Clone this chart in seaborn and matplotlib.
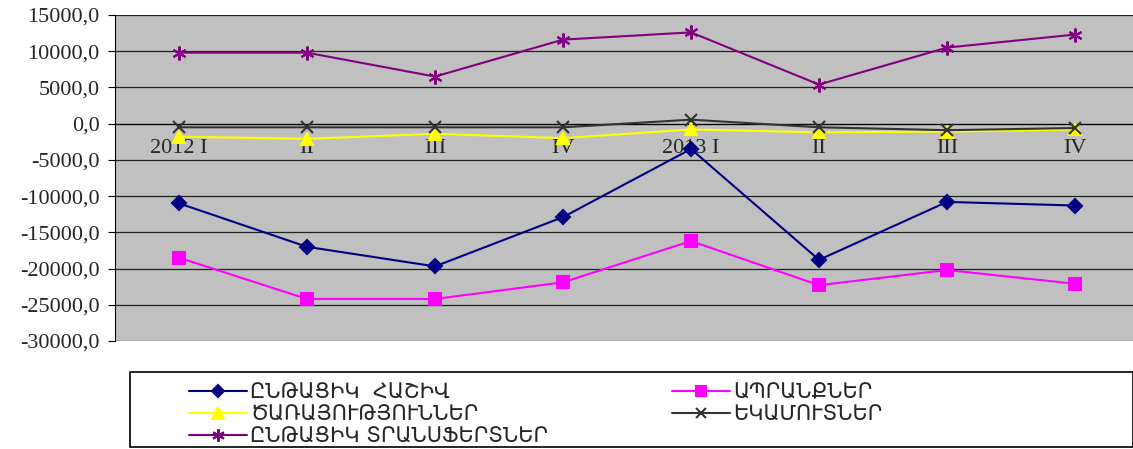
import numpy as np
import pandas as pd
import matplotlib
matplotlib.use("Agg")
import matplotlib.pyplot as plt
import matplotlib.ticker as mticker
from matplotlib.patches import Rectangle
import seaborn as sns

# Quarters on the x axis
quarters = ["2012 I", "II", "III", "IV", "2013 I", "II", "III", "IV"]

# Series values
current_account = [-11000, -17000, -19700, -12900, -3500, -18800, -10800, -11300]
goods = [-18500, -24200, -24200, -21900, -16200, -22300, -20200, -22100]
services = [-1800, -2100, -1400, -2000, -800, -1200, -1100, -800]
income = [-500, -500, -500, -500, 550, -500, -900, -600]
transfers = [9800, 9800, 6500, 11600, 12600, 5400, 10500, 12300]

labels = ["ԸՆԹԱՑԻԿ  ՀԱՇԻՎ", "ԱՊՐԱՆՔՆԵՐ", "ԾԱՌԱՅՈՒԹՅՈՒՆՆԵՐ",
          "ԵԿԱՄՈՒՏՆԵՐ", "ԸՆԹԱՑԻԿ ՏՐԱՆՍՖԵՐՏՆԵՐ"]

sns.set_style("white")
plt.rcParams['font.family'] = ['Liberation Serif', 'DejaVu Serif']

fig = plt.figure(figsize=(11.33, 4.49), dpi=100)
ax = fig.add_axes([115 / 1133, 1 - 341 / 449, 1024 / 1133, 326 / 449])
ax.set_facecolor("#c0c0c0")

pos = np.arange(len(quarters))
styles = [
    (current_account, "#000080", "D", 7, labels[0]),
    (goods, "#ff00ff", "s", 8.5, labels[1]),
    (services, "#ffff00", "^", 9, labels[2]),
    (income, "#333333", "x", 8, labels[3]),
    (transfers, "#800080", (6, 2, 0), 10, labels[4]),
]

handles = {}
for vals, col, mk, ms, lab in styles:
    sns.lineplot(x=pos, y=vals, ax=ax, color=col, marker=mk, markersize=ms,
                 markeredgecolor=col, markeredgewidth=1.5, linewidth=1.5,
                 label=lab, legend=False, zorder=3)
    handles[lab] = ax.lines[-1]

ax.set_xlim(-0.5, len(quarters) - 0.5)
ax.set_ylim(-30000, 15000)
ax.yaxis.set_major_locator(mticker.MultipleLocator(5000))
ax.yaxis.set_major_formatter(mticker.FuncFormatter(
    lambda v, p: f"{v:.1f}".replace(".", ",")))
ax.grid(axis="y", color="#202020", linewidth=0.9)
ax.set_axisbelow(True)

for s in ["top", "right"]:
    ax.spines[s].set_visible(False)
ax.spines["left"].set_color("black")
ax.spines["bottom"].set_position(("data", 0))
ax.spines["bottom"].set_color("black")
ax.spines["bottom"].set_zorder(2)

ax.set_xticks(pos)
ax.set_xticklabels(quarters)
ax.set_xticks(np.arange(-0.5, len(quarters), 1), minor=True)
ax.tick_params(axis="x", which="major", length=0, pad=11, labelsize=16)
ax.tick_params(axis="x", which="minor", length=6, direction="inout", color="black")
ax.tick_params(axis="y", length=5, direction="out", color="black", pad=6,
               labelsize=16, left=True)
ax.set_xlabel("")
ax.set_ylabel("")

# legend box
fig.patches.append(Rectangle((130 / 1133, 1 - 447 / 449), 1 - 130 / 1133, 75 / 449,
                             transform=fig.transFigure, fill=False,
                             edgecolor="black", linewidth=1.2))
order = [labels[0], labels[2], labels[4], labels[1], labels[3]]
fig.legend([handles[l] for l in order], order, ncol=2, frameon=False,
           loc="upper left", bbox_to_anchor=(175 / 1133, 1 - 369 / 449),
           prop={"family": ["DejaVu Sans"], "size": 15},
           handlelength=2.8, handletextpad=0.15, columnspacing=5.95,
           labelspacing=0.1, borderpad=0.15, markerscale=0.9)

fig.savefig("out.png", dpi=100)
